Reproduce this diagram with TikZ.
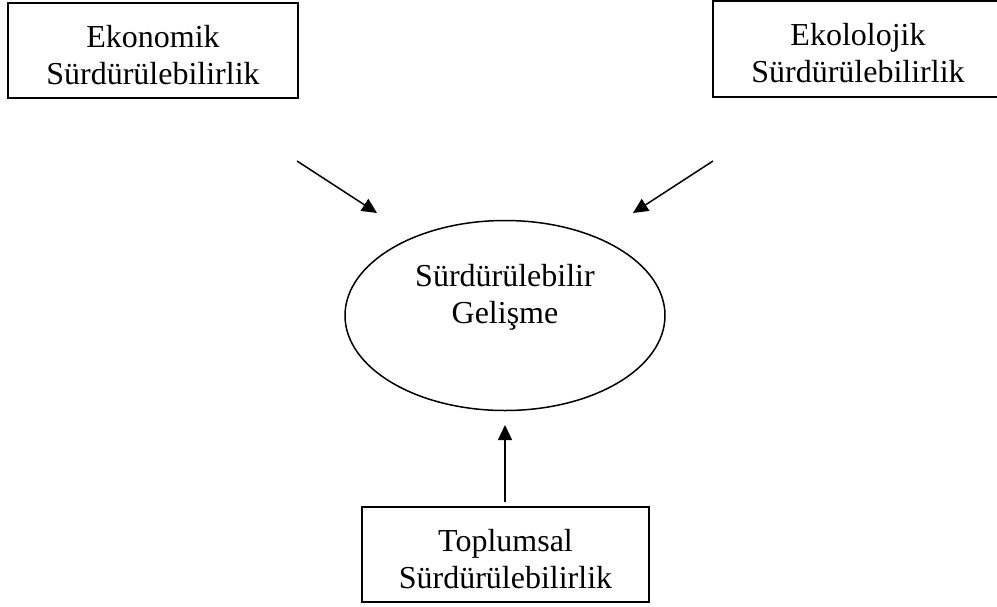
\documentclass[tikz,border=0pt]{standalone}
\usepackage{fontspec}
\setmainfont{Liberation Serif}
\usetikzlibrary{arrows.meta,shapes.geometric}
\begin{document}
\begin{tikzpicture}[x=1pt,y=-1pt,
  every node/.style={font=\fontsize{32}{37}\selectfont, inner sep=0pt},
  pillar/.style={draw, line width=1.6pt, rectangle, align=center},
  core/.style={draw, line width=1.5pt, ellipse, minimum width=320pt, minimum height=190pt},
  feed/.style={line width=1.5pt, -{Triangle[length=15pt,width=14pt]}}]
  \useasboundingbox (0,0) rectangle (997,606);
  \clip (0,0) rectangle (997,606);
  % three pillars
  \node[pillar, minimum width=290pt, minimum height=95pt] (eko) at (153,50.5) {};
  \node[align=center] (ekot) at (153,55) {Ekonomik\\Sürdürülebilirlik};
  \node[pillar, minimum width=330pt, minimum height=96pt] (ekl) at (878,49) {};
  \node[align=center] (eklt) at (858,53) {Ekololojik\\Sürdürülebilirlik};
  \node[pillar, minimum width=287pt, minimum height=95pt] (top) at (505.5,554.5) {};
  \node[align=center] (topt) at (505.5,559) {Toplumsal\\Sürdürülebilirlik};
  % central goal
  \node[core] (dev) at (505,315.5) {};
  \node[align=center] (devt) at (505,297) {Sürdürülebilir\\Gelişme};
  % free arrow ends
  \coordinate (a1s) at (297,161);
  \coordinate (a1e) at (377,213);
  \coordinate (a2s) at (713,161);
  \coordinate (a2e) at (633,213);
  \coordinate (a3s) at (505,502);
  \coordinate (a3e) at (505,425);
  \draw[feed] (a1s) -- (a1e);
  \draw[feed] (a2s) -- (a2e);
  \draw[feed] (a3s) -- (a3e);
\end{tikzpicture}
\end{document}
